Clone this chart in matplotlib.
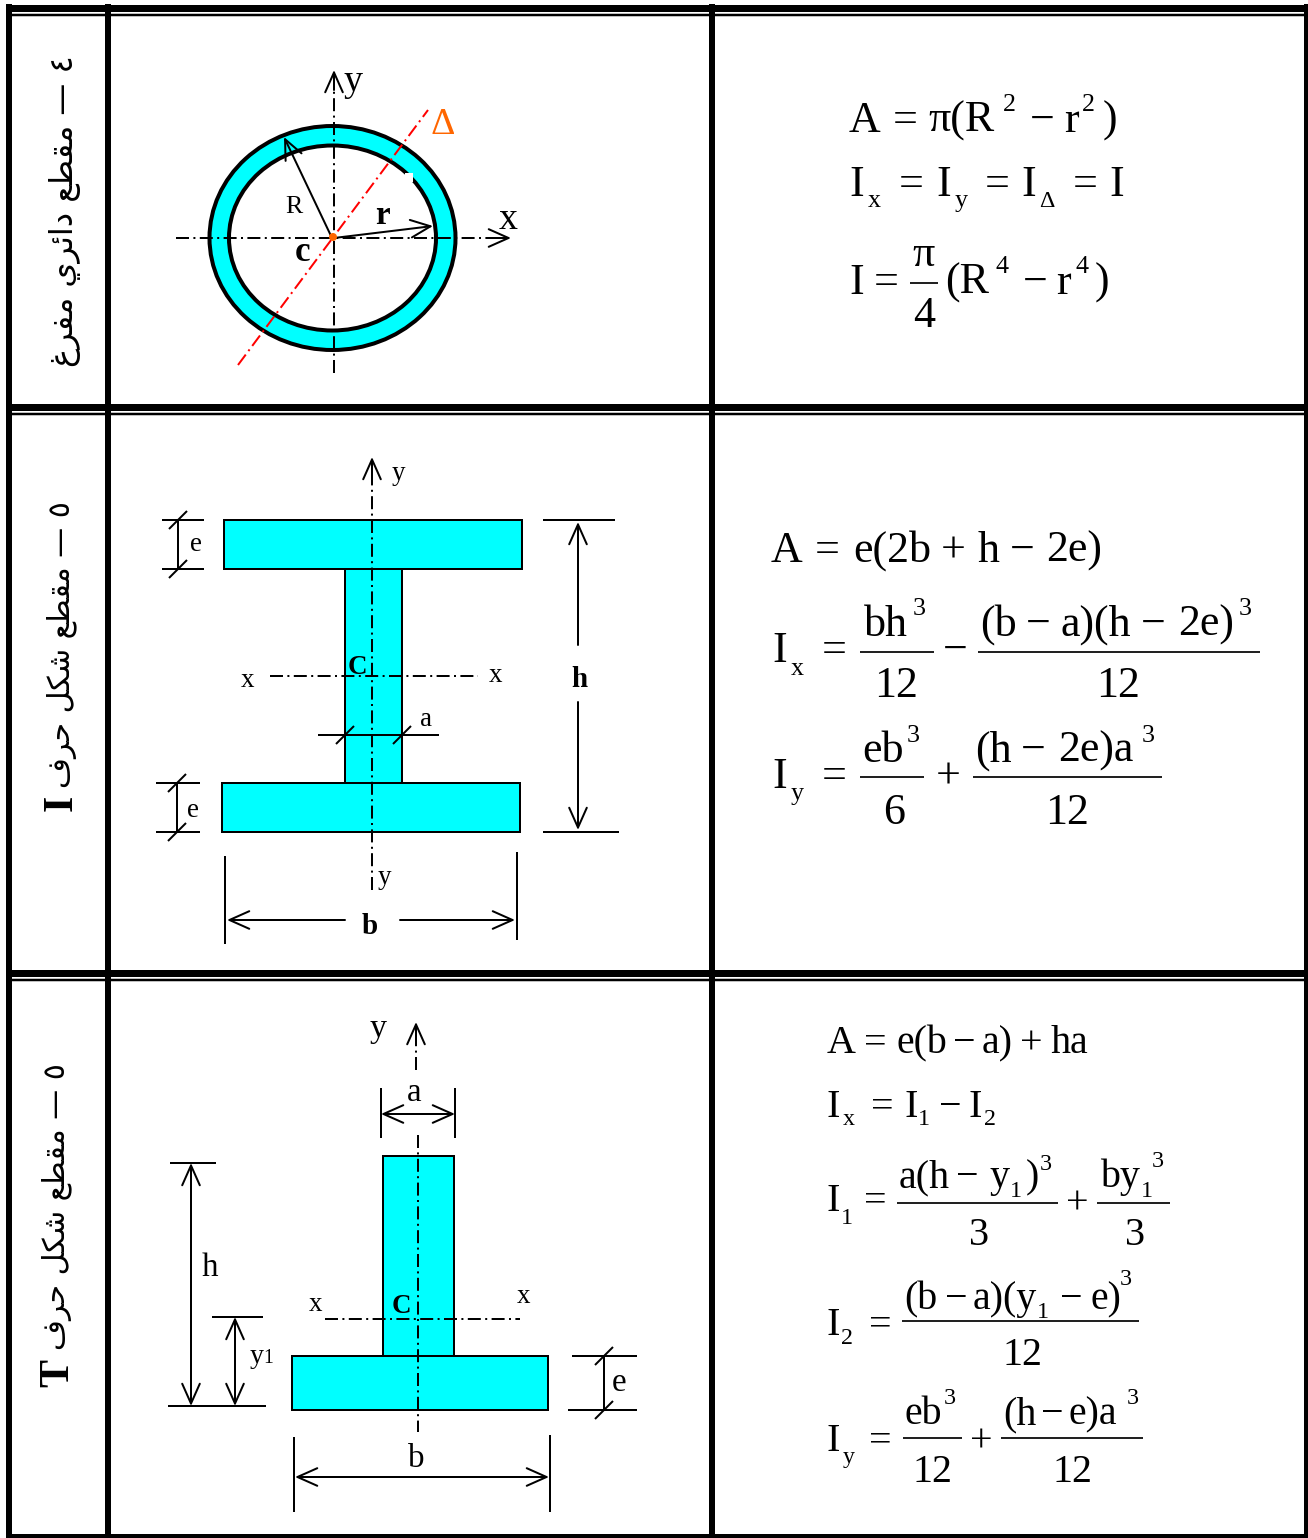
import matplotlib
matplotlib.use('Agg')
import matplotlib.pyplot as plt
from matplotlib.patches import Ellipse, Rectangle, Circle

SERIF = 'Liberation Serif'
CYAN = '#00FFFF'
DASHDOT = (0, (6.5, 2.2, 1, 2.2))
MINUS = '\u2212'

# Arabic labels, shaped by hand below since matplotlib has no shaping
TITLE_RING = '٤ — مقطع دائري مفرغ'
TITLE_I = '٥ — مقطع شكل حرف'
TITLE_T = '٥ — مقطع شكل حرف'

# isolated, final, initial, medial
FORMS = {
    'م': '\uFEE1\uFEE2\uFEE3\uFEE4', 'ق': '\uFED5\uFED6\uFED7\uFED8',
    'ط': '\uFEC1\uFEC2\uFEC3\uFEC4', 'ع': '\uFEC9\uFECA\uFECB\uFECC',
    'د': '\uFEA9\uFEAA\uFEA9\uFEAA', 'ا': '\uFE8D\uFE8E\uFE8D\uFE8E',
    'ئ': '\uFE89\uFE8A\uFE8B\uFE8C', 'ر': '\uFEAD\uFEAE\uFEAD\uFEAE',
    'ي': '\uFEF1\uFEF2\uFEF3\uFEF4', 'ف': '\uFED1\uFED2\uFED3\uFED4',
    'غ': '\uFECD\uFECE\uFECF\uFED0', 'ش': '\uFEB5\uFEB6\uFEB7\uFEB8',
    'ك': '\uFED9\uFEDA\uFEDB\uFEDC', 'ل': '\uFEDD\uFEDE\uFEDF\uFEE0',
    'ح': '\uFEA1\uFEA2\uFEA3\uFEA4',
}
NO_NEXT = 'دار'


def shape(s):
    out = []
    for i, c in enumerate(s):
        if c not in FORMS:
            out.append(c)
            continue
        prev = s[i - 1] if i > 0 else ' '
        nxt = s[i + 1] if i < len(s) - 1 else ' '
        joins_prev = prev in FORMS and prev not in NO_NEXT
        joins_next = nxt in FORMS and c not in NO_NEXT
        if joins_prev and joins_next:
            out.append(FORMS[c][3])
        elif joins_next:
            out.append(FORMS[c][2])
        elif joins_prev:
            out.append(FORMS[c][1])
        else:
            out.append(FORMS[c][0])
    return ''.join(reversed(out))


fig = plt.figure(figsize=(13.08, 15.38), dpi=100)
ax = fig.add_axes([0, 0, 1, 1])
ax.set_xlim(0, 1308)
ax.set_ylim(1538, 0)
ax.axis('off')


def px(n):
    return n * 0.72


def txt(x, y, s, em=44, color='black', **kw):
    kw.setdefault('family', SERIF)
    ax.text(x, y, s, fontsize=px(em), color=color, ha='left', va='baseline', **kw)


def line(x0, y0, x1, y1, lw=2, color='black', **kw):
    ax.plot([x0, x1], [y0, y1], color=color, lw=px(lw), solid_capstyle='butt', **kw)


def axis_line(x0, y0, x1, y1, color='black'):
    ax.plot([x0, x1], [y0, y1], color=color, lw=px(2), ls=DASHDOT, zorder=4)


def arrow(x0, y0, x1, y1, style='->', lw=2):
    ax.annotate('', xy=(x1, y1), xytext=(x0, y0), zorder=5,
                arrowprops=dict(arrowstyle=style + ',head_length=0.9,head_width=0.4',
                                mutation_scale=px(22), lw=px(lw), color='black',
                                shrinkA=0, shrinkB=0))


def slash(x, y):
    line(x - 9, y + 9, x + 9, y - 9, lw=2)


def rect(x0, y0, x1, y1, lw=2):
    ax.add_patch(Rectangle((x0, y0), x1 - x0, y1 - y0, fc=CYAN, ec='black', lw=px(lw), zorder=2))


def frac(x0, x1, y, lw=2):
    line(x0, y, x1, y, lw=lw, color='#222222')


# table frame
for y, lw in [(7.5, 7), (14.5, 2.5), (406.5, 7), (413.5, 2.5), (972.5, 7), (979.5, 2.5), (1536, 5)]:
    line(6, y, 1308, y, lw=lw)
for x, lw in [(9, 6), (108, 6), (711.5, 6), (1305.5, 4)]:
    line(x, 4, x, 1538, lw=lw)

# left column titles
ax.text(65, 211, shape(TITLE_RING), family='DejaVu Sans', fontsize=px(32), rotation=90,
        ha='center', va='center')
ax.text(62, 645, shape(TITLE_I), family='DejaVu Sans', fontsize=px(30), rotation=90,
        ha='center', va='center')
ax.text(62, 803, 'I', family=SERIF, weight='bold', fontsize=px(42), rotation=90, ha='center', va='center')
ax.text(57, 1207, shape(TITLE_T), family='DejaVu Sans', fontsize=px(30), rotation=90,
        ha='center', va='center')
ax.text(58, 1373, 'T', family=SERIF, weight='bold', fontsize=px(42), rotation=90, ha='center', va='center')

# hollow circle
ax.add_patch(Ellipse((332.5, 238), 246, 224, fc=CYAN, ec='black', lw=px(4), zorder=2))
ax.add_patch(Ellipse((332.5, 238), 207, 185, fc='white', ec='black', lw=px(4), zorder=2))
ax.add_patch(Rectangle((405, 173), 8, 9, fc='white', ec='none', zorder=3))
axis_line(334, 373, 334, 72)
axis_line(176, 238, 508, 238)
axis_line(238, 365, 428, 110, color='red')
arrow(334, 90, 334, 70)
arrow(490, 238, 511, 238)
arrow(332, 238, 284, 137)
arrow(334, 238, 433, 226)
ax.add_patch(Circle((333, 237), 4, fc='#FF6600', ec='none', zorder=6))
txt(343, 91, 'y', em=38)
txt(499, 229, 'x', em=38)
txt(430, 134, 'Δ', em=38, color='#FF6600')
txt(285, 213, 'R', em=26)
txt(375, 224, 'r', em=33, weight='bold')
txt(295, 261, 'c', em=35, weight='bold')

# ring formulas
txt(849, 132, 'A')
txt(893, 132, '=')
txt(928, 132, 'π(R')
txt(1003, 111, '2', em=26)
txt(1030, 132, MINUS)
txt(1064, 132, 'r')
txt(1082, 111, '2', em=26)
txt(1103, 132, ')')
txt(849, 196, 'I')
txt(868, 207, 'x', em=26)
txt(899, 196, '=')
txt(936, 196, 'I')
txt(955, 207, 'y', em=26)
txt(985, 196, '=')
txt(1021, 196, 'I')
txt(1039, 207, 'Δ', em=24)
txt(1073, 196, '=')
txt(1109, 196, 'I')
txt(849, 294, 'I')
txt(874, 294, '=')
txt(912, 266, 'π')
frac(910, 938, 283)
txt(913, 327, '4')
txt(945, 294, '(R')
txt(995, 273, '4', em=26)
txt(1023, 294, MINUS)
txt(1056, 294, 'r')
txt(1076, 273, '4', em=26)
txt(1095, 294, ')')

# I section
rect(224, 520, 522, 569)
rect(345, 569, 402, 783)
rect(222, 783, 520, 832)
axis_line(372, 890, 372, 460)
arrow(372, 478, 372, 457)
axis_line(270, 676, 478, 676)
txt(392, 480, 'y', em=27)
txt(378, 884, 'y', em=27)
txt(241, 687, 'x', em=27)
txt(489, 682, 'x', em=27)
txt(348, 674, 'C', em=27, weight='bold')
line(318, 735, 439, 735)
slash(345, 735)
slash(402, 735)
txt(420, 726, 'a', em=27)
line(162, 520, 204, 520)
line(162, 569, 204, 569)
line(178, 520, 178, 569)
slash(178, 520)
slash(178, 569)
txt(190, 551, 'e', em=27)
line(156, 783, 200, 783)
line(156, 832, 200, 832)
line(177, 783, 177, 832)
slash(177, 783)
slash(177, 832)
txt(187, 817, 'e', em=27)
line(543, 520, 615, 520)
line(543, 832, 619, 832)
arrow(578, 645, 578, 522)
arrow(578, 702, 578, 830)
txt(571, 687, 'h', em=29, weight='bold')
line(225, 856, 225, 944)
line(517, 852, 517, 940)
arrow(345, 920, 227, 920)
arrow(400, 920, 515, 920)
txt(362, 934, 'b', em=29, weight='bold')

# I section formulas
txt(771, 562, 'A')
txt(815, 562, '=')
txt(853, 562, 'e(2b')
txt(941, 562, '+')
txt(978, 562, 'h')
txt(1010, 562, MINUS)
txt(1046, 562, '2e)')
txt(772, 662, 'I')
txt(791, 675, 'x', em=26)
txt(822, 662, '=')
txt(864, 636, 'bh')
txt(913, 615, '3', em=26)
frac(860, 934, 652)
txt(874, 697, '12')
txt(943, 662, MINUS)
txt(980, 636, '(b')
txt(1026, 636, MINUS)
txt(1060, 636, 'a)(h')
txt(1141, 636, MINUS)
txt(1178, 636, '2e)')
txt(1239, 615, '3', em=26)
frac(978, 1260, 652)
txt(1096, 697, '12')
txt(772, 788, 'I')
txt(791, 800, 'y', em=26)
txt(822, 788, '=')
txt(862, 762, 'eb')
txt(907, 742, '3', em=26)
frac(860, 924, 777)
txt(883, 824, '6')
txt(936, 788, '+')
txt(975, 762, '(h')
txt(1021, 762, MINUS)
txt(1058, 762, '2e)a')
txt(1142, 742, '3', em=26)
frac(973, 1162, 777)
txt(1045, 824, '12')

# T section
rect(383, 1156, 454, 1356)
rect(292, 1356, 548, 1410)
axis_line(416, 1070, 416, 1026)
arrow(416, 1044, 416, 1022)
axis_line(418, 1135, 418, 1432)
axis_line(325, 1319, 520, 1319)
txt(370, 1037, 'y', em=34)
line(381, 1088, 381, 1138)
line(455, 1088, 455, 1138)
arrow(381, 1114, 455, 1114, style='<->')
txt(407, 1101, 'a', em=33)
txt(309, 1311, 'x', em=27)
txt(517, 1303, 'x', em=27)
txt(392, 1313, 'C', em=27, weight='bold')
line(170, 1163, 216, 1163)
line(168, 1406, 266, 1406)
arrow(191, 1163, 191, 1406, style='<->')
txt(202, 1276, 'h', em=33)
line(212, 1317, 263, 1317)
arrow(235, 1317, 235, 1406, style='<->')
txt(250, 1363, 'y', em=28)
txt(263, 1363, '1', em=20)
line(572, 1356, 637, 1356)
line(568, 1410, 637, 1410)
line(604, 1356, 604, 1410)
slash(604, 1356)
slash(604, 1410)
txt(612, 1391, 'e', em=33)
line(294, 1437, 294, 1512)
line(550, 1435, 550, 1512)
arrow(295, 1477, 549, 1477, style='<->')
txt(408, 1467, 'b', em=33)

# T section formulas
txt(827, 1053, 'A', em=40)
txt(864, 1053, '=', em=40)
txt(897, 1053, 'e(b', em=40)
txt(953, 1053, MINUS, em=40)
txt(982, 1053, 'a)', em=40)
txt(1020, 1053, '+', em=40)
txt(1051, 1053, 'ha', em=40)
txt(827, 1117, 'I', em=40)
txt(843, 1125, 'x', em=24)
txt(871, 1117, '=', em=40)
txt(904, 1117, 'I', em=40)
txt(918, 1125, '1', em=24)
txt(939, 1117, MINUS, em=40)
txt(968, 1117, 'I', em=40)
txt(984, 1125, '2', em=24)
txt(827, 1211, 'I', em=40)
txt(841, 1224, '1', em=24)
txt(864, 1211, '=', em=40)
txt(899, 1187, 'a(h', em=40)
txt(956, 1187, MINUS, em=40)
txt(990, 1187, 'y', em=40)
txt(1010, 1197, '1', em=24)
txt(1026, 1187, ')', em=40)
txt(1040, 1170, '3', em=24)
frac(897, 1058, 1203)
txt(969, 1245, '3', em=40)
txt(1066, 1214, '+', em=40)
txt(1100, 1187, 'by', em=40)
txt(1141, 1197, '1', em=24)
txt(1152, 1167, '3', em=24)
frac(1097, 1170, 1203)
txt(1125, 1245, '3', em=40)
txt(827, 1335, 'I', em=40)
txt(841, 1344, '2', em=24)
txt(869, 1335, '=', em=40)
txt(904, 1309, '(b', em=40)
txt(945, 1309, MINUS, em=40)
txt(973, 1309, 'a)(y', em=40)
txt(1037, 1318, '1', em=24)
txt(1060, 1309, MINUS, em=40)
txt(1090, 1309, 'e)', em=40)
txt(1120, 1285, '3', em=24)
frac(902, 1139, 1321)
txt(1002, 1365, '12', em=40)
txt(827, 1451, 'I', em=40)
txt(843, 1463, 'y', em=24)
txt(869, 1451, '=', em=40)
txt(905, 1424, 'eb', em=40)
txt(944, 1404, '3', em=24)
frac(903, 962, 1438)
txt(912, 1482, '12', em=40)
txt(970, 1451, '+', em=40)
txt(1003, 1424, '(h', em=40)
txt(1041, 1424, MINUS, em=40)
txt(1069, 1424, 'e)a', em=40)
txt(1127, 1404, '3', em=24)
frac(1001, 1143, 1438)
txt(1052, 1482, '12', em=40)

fig.savefig('out.png', dpi=100)
